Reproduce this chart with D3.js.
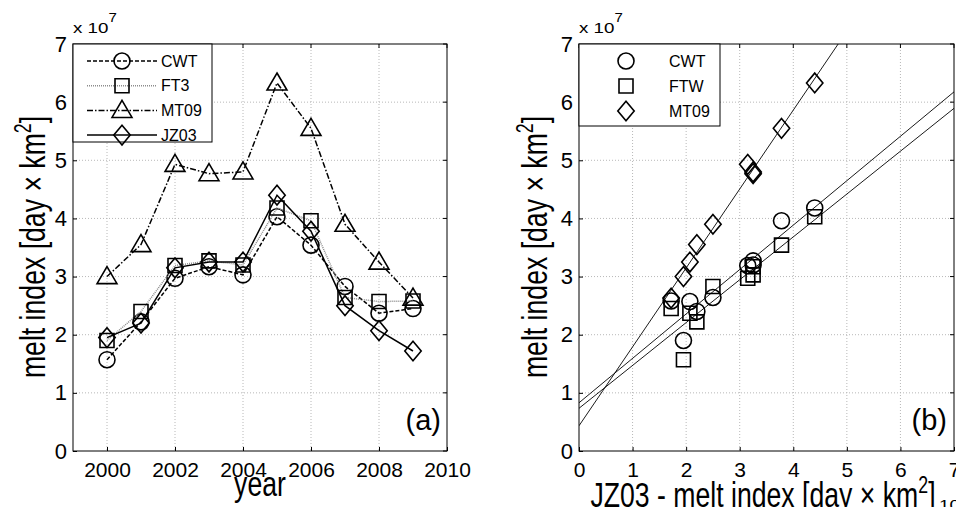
<html>
<head>
<script src="https://d3js.org/d3.v7.min.js"></script>
<style>
  body { margin: 0; background: #fff; }
  text { font-family: "Liberation Sans", Arial, sans-serif; fill: #000; }
  .grid line { stroke: #b8b8b8; stroke-width: 1; stroke-dasharray: 1,2; }
</style>
</head>
<body>
<script>
// ---------------------------------------------------------------
// data (values in units of 1e7 day x km^2)
// ---------------------------------------------------------------
var years = [2000, 2001, 2002, 2003, 2004, 2005, 2006, 2007, 2008, 2009];
var cwt  = [1.57, 2.22, 2.97, 3.17, 3.03, 4.03, 3.54, 2.83, 2.37, 2.45];
var ft3  = [1.90, 2.40, 3.19, 3.27, 3.20, 4.18, 3.96, 2.64, 2.57, 2.58];
var mt09 = [3.00, 3.55, 4.93, 4.77, 4.80, 6.33, 5.55, 3.90, 3.25, 2.63];
var jz03 = [1.95, 2.20, 3.15, 3.25, 3.25, 4.40, 3.78, 2.50, 2.07, 1.72];

var yTicks = [0, 1, 2, 3, 4, 5, 6, 7];
var yearTicks = [2000, 2002, 2004, 2006, 2008, 2010];
var xbTicks = [0, 1, 2, 3, 4, 5, 6, 7];

var seriesA = [
  { name: "CWT",  values: cwt,  marker: "circle",   dash: "4,2",       color: "#000" },
  { name: "FT3",  values: ft3,  marker: "square",   dash: "1,1",       color: "#8c8c8c" },
  { name: "MT09", values: mt09, marker: "triangle", dash: "6,2,1.5,2", color: "#000" },
  { name: "JZ03", values: jz03, marker: "diamond",  dash: null,        color: "#000" }
];
// panel (b): JZ03 on x, other indices on y
var seriesB = [
  { name: "CWT",  values: ft3,  marker: "circle" },
  { name: "FTW",  values: cwt,  marker: "square" },
  { name: "MT09", values: mt09, marker: "diamond" }
];

var W = 956, H = 507;
var svg = d3.select("body").append("svg").attr("width", W).attr("height", H);

var plotTop = 44, plotBottom = 451;
var boxA = { x0: 73, x1: 447 };
var boxB = { x0: 579, x1: 954 };

var y = d3.scaleLinear().domain([0, 7]).range([plotBottom, plotTop]);
var xA = d3.scaleLinear().domain([1999, 2010]).range([boxA.x0, boxA.x1]);
var xB = d3.scaleLinear().domain([0, 7]).range([boxB.x0, boxB.x1]);

function markerPath(type, r) {
  var p = d3.path();
  if (type == "circle") { p.moveTo(r, 0); p.arc(0, 0, r, 0, 2 * Math.PI); }
  else if (type == "square") { p.rect(-r, -r, 2 * r, 2 * r); }
  else if (type == "triangle") { p.moveTo(0, -r * 1.2); p.lineTo(r * 1.2, r * 0.85); p.lineTo(-r * 1.2, r * 0.85); p.closePath(); }
  else if (type == "diamond") { p.moveTo(0, -r * 1.2); p.lineTo(r * 1.0, 0); p.lineTo(0, r * 1.2); p.lineTo(-r * 1.0, 0); p.closePath(); }
  return p.toString();
}
var markerR = { circle: 8, square: 7, triangle: 8.3, diamond: 8.2 };

// "x 10^7" style exponent, drawn a bit wide like the original
function exponent(g, x0, y0, withX) {
  var t = g.append("text").attr("transform", "translate(" + x0 + "," + y0 + ") scale(1.25,1)")
    .attr("font-size", 15);
  t.append("tspan").text(withX ? "x 10" : "10");
  t.append("tspan").attr("dy", -11).attr("font-size", 12).text("7");
}

function frame(g, x, xticks, box) {
  var grid = g.append("g").attr("class", "grid");
  grid.selectAll(".gx").data(xticks.filter(function(d){ return x(d) > box.x0 + 1 && x(d) < box.x1 - 1; }))
    .enter().append("line").attr("x1", function(d){ return x(d); }).attr("x2", function(d){ return x(d); })
    .attr("y1", plotTop).attr("y2", plotBottom);
  grid.selectAll(".gy").data(yTicks.filter(function(d){ return d > 0 && d < 7; }))
    .enter().append("line").attr("y1", function(d){ return y(d); }).attr("y2", function(d){ return y(d); })
    .attr("x1", box.x0).attr("x2", box.x1);

  // axes: labels outside, tick marks inside
  var ax = g.append("g").attr("transform", "translate(0," + plotBottom + ")")
    .call(d3.axisBottom(x).tickValues(xticks).tickSize(4).tickPadding(7).tickFormat(d3.format("d")));
  ax.select(".domain").remove();
  ax.selectAll(".tick line").attr("y2", -4).attr("stroke", "#000");
  ax.selectAll("text").attr("font-size", 21).attr("dy", "0.71em");
  var ay = g.append("g").attr("transform", "translate(" + box.x0 + ",0)")
    .call(d3.axisLeft(y).tickValues(yTicks).tickSize(4).tickPadding(2).tickFormat(d3.format("d")));
  ay.select(".domain").remove();
  ay.selectAll(".tick line").attr("x2", 4).attr("stroke", "#000");
  ay.selectAll("text").attr("font-size", 22);
  g.selectAll(".tt").data(xticks).enter().append("line")
    .attr("x1", function(d){ return x(d); }).attr("x2", function(d){ return x(d); })
    .attr("y1", plotTop).attr("y2", plotTop + 4).attr("stroke", "#000");
  g.selectAll(".tr").data(yTicks).enter().append("line")
    .attr("x1", box.x1).attr("x2", box.x1 - 4)
    .attr("y1", function(d){ return y(d); }).attr("y2", function(d){ return y(d); }).attr("stroke", "#000");

  exponent(g, box.x0, 33, true);
}

// tall, narrow label text like the original figure
function label(g, tf, parts) {
  var t = g.append("text").attr("transform", tf + " scale(0.74,1)")
    .attr("text-anchor", "middle").attr("font-size", 36);
  t.append("tspan").text(parts[0]);
  if (parts.length > 1) {
    t.append("tspan").attr("dy", -14).attr("font-size", 24).text(parts[1]);
    t.append("tspan").attr("dy", 14).text(parts[2]);
  }
}
var yLabelParts = ["melt index [day \u00d7 km", "2", "]"];

// ---------------------------------------------------------------
// panel (a)
// ---------------------------------------------------------------
var gA = svg.append("g");
frame(gA, xA, yearTicks, boxA);

var line = d3.line().x(function(d, i){ return xA(years[i]); }).y(function(d){ return y(d); });
seriesA.forEach(function(s) {
  gA.append("path").datum(s.values).attr("d", line).attr("fill", "none")
    .attr("stroke", s.color).attr("stroke-width", 1.5).attr("stroke-dasharray", s.dash);
  gA.selectAll(".m" + s.name).data(s.values).enter().append("path")
    .attr("transform", function(d, i){ return "translate(" + xA(years[i]) + "," + y(d) + ")"; })
    .attr("d", markerPath(s.marker, markerR[s.marker]))
    .attr("fill", "none").attr("stroke", "#000").attr("stroke-width", 1.6);
});

gA.append("rect").attr("x", boxA.x0).attr("y", plotTop).attr("width", boxA.x1 - boxA.x0).attr("height", plotBottom - plotTop)
  .attr("fill", "none").attr("stroke", "#000").attr("stroke-width", 1);

var legA = gA.append("g");
legA.append("rect").attr("x", boxA.x0).attr("y", plotTop).attr("width", 139).attr("height", 98)
  .attr("fill", "#fff").attr("stroke", "#000").attr("stroke-width", 1);
seriesA.forEach(function(s, i) {
  var ly = 61 + i * 24.7;
  legA.append("line").attr("x1", 87).attr("x2", 157).attr("y1", ly).attr("y2", ly)
    .attr("stroke", s.color).attr("stroke-width", 1.5).attr("stroke-dasharray", s.dash);
  legA.append("path").attr("transform", "translate(122," + ly + ")")
    .attr("d", markerPath(s.marker, markerR[s.marker]))
    .attr("fill", "none").attr("stroke", "#000").attr("stroke-width", 1.6);
  legA.append("text").attr("x", 161).attr("y", ly).attr("dy", "0.36em").attr("font-size", 16).text(s.name);
});

gA.append("text").attr("x", 441).attr("y", 430).attr("text-anchor", "end").attr("font-size", 29).text("(a)");
label(gA, "translate(260,496)", ["year"]);
label(gA, "translate(45,247) rotate(-90)", yLabelParts);

// ---------------------------------------------------------------
// panel (b)
// ---------------------------------------------------------------
var gB = svg.append("g");
frame(gB, xB, xbTicks, boxB);

svg.append("clipPath").attr("id", "clipB").append("rect")
  .attr("x", boxB.x0).attr("y", plotTop).attr("width", boxB.x1 - boxB.x0).attr("height", plotBottom - plotTop);

// least-squares line of each index against JZ03
function fit(xs, ys) {
  var mx = d3.mean(xs), my = d3.mean(ys);
  var sxy = d3.sum(xs, function(d, i){ return (d - mx) * (ys[i] - my); });
  var sxx = d3.sum(xs, function(d){ return (d - mx) * (d - mx); });
  var b = sxy / sxx;
  return { slope: b, icpt: my - b * mx };
}

var fits = gB.append("g").attr("clip-path", "url(#clipB)");
seriesB.forEach(function(s) {
  var f = fit(jz03, s.values);
  fits.append("line").attr("x1", xB(0)).attr("y1", y(f.icpt))
    .attr("x2", xB(7)).attr("y2", y(f.icpt + 7 * f.slope))
    .attr("stroke", "#000").attr("stroke-width", 0.9);
});
seriesB.forEach(function(s) {
  gB.selectAll(".p" + s.name).data(s.values).enter().append("path")
    .attr("transform", function(d, i){ return "translate(" + xB(jz03[i]) + "," + y(d) + ")"; })
    .attr("d", markerPath(s.marker, markerR[s.marker]))
    .attr("fill", "none").attr("stroke", "#000").attr("stroke-width", 1.6);
});

gB.append("rect").attr("x", boxB.x0).attr("y", plotTop).attr("width", boxB.x1 - boxB.x0).attr("height", plotBottom - plotTop)
  .attr("fill", "none").attr("stroke", "#000").attr("stroke-width", 1);

var legB = gB.append("g");
legB.append("rect").attr("x", boxB.x0).attr("y", plotTop).attr("width", 141).attr("height", 82)
  .attr("fill", "#fff").attr("stroke", "#000").attr("stroke-width", 1);
seriesB.forEach(function(s, i) {
  var ly = 61 + i * 25;
  legB.append("path").attr("transform", "translate(626," + ly + ")")
    .attr("d", markerPath(s.marker, markerR[s.marker]))
    .attr("fill", "none").attr("stroke", "#000").attr("stroke-width", 1.6);
  legB.append("text").attr("x", 669).attr("y", ly).attr("dy", "0.36em").attr("font-size", 16).text(s.name);
});

gB.append("text").attr("x", 947).attr("y", 430).attr("text-anchor", "end").attr("font-size", 29).text("(b)");

// bottom-right exponent, partly hidden under the x label
exponent(gB, 939, 510, false);
label(gB, "translate(763,507)", ["JZ03 - melt index [day \u00d7 km", "2", "]"]);
label(gB, "translate(547,247) rotate(-90)", yLabelParts);
</script>
</body>
</html>
